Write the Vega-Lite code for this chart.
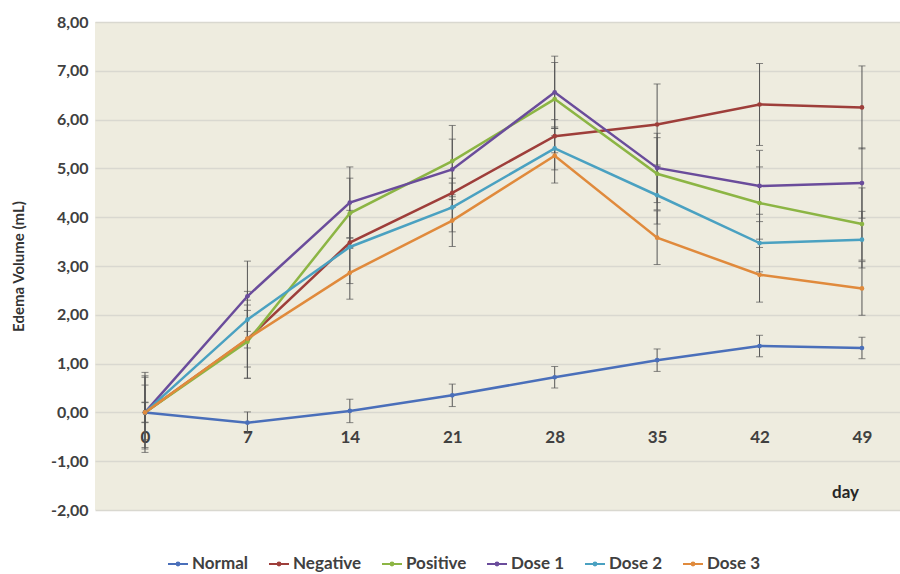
{
  "$schema": "https://vega.github.io/schema/vega-lite/v6.json",
  "width": 805,
  "height": 488,
  "autosize": "none",
  "padding": {"left": 95, "top": 22, "right": 0, "bottom": 64},
  "background": "#ffffff",
  "config": {
    "view": {"stroke": null, "fill": "#eeecdf"},
    "font": "Lato"
  },
  "data": {
    "values": [
      {"series": "Normal", "day": 0, "mean": 0, "lo": -0.2, "hi": 0.2},
      {"series": "Normal", "day": 7, "mean": -0.21, "lo": -0.43, "hi": 0.01},
      {"series": "Normal", "day": 14, "mean": 0.03, "lo": -0.21, "hi": 0.27},
      {"series": "Normal", "day": 21, "mean": 0.35, "lo": 0.12, "hi": 0.58},
      {"series": "Normal", "day": 28, "mean": 0.72, "lo": 0.5, "hi": 0.94},
      {"series": "Normal", "day": 35, "mean": 1.07, "lo": 0.84, "hi": 1.3},
      {"series": "Normal", "day": 42, "mean": 1.36, "lo": 1.14, "hi": 1.58},
      {"series": "Normal", "day": 49, "mean": 1.32, "lo": 1.1, "hi": 1.54},
      {"series": "Negative", "day": 0, "mean": 0, "lo": -0.82, "hi": 0.82},
      {"series": "Negative", "day": 7, "mean": 1.5, "lo": 0.7, "hi": 2.3},
      {"series": "Negative", "day": 14, "mean": 3.48, "lo": 3.38, "hi": 3.58},
      {"series": "Negative", "day": 21, "mean": 4.5, "lo": 4.2, "hi": 4.8},
      {"series": "Negative", "day": 28, "mean": 5.66, "lo": 5.32, "hi": 6.0},
      {"series": "Negative", "day": 35, "mean": 5.9, "lo": 5.07, "hi": 6.73},
      {"series": "Negative", "day": 42, "mean": 6.31, "lo": 5.47, "hi": 7.15},
      {"series": "Negative", "day": 49, "mean": 6.25, "lo": 5.4, "hi": 7.1},
      {"series": "Positive", "day": 0, "mean": 0, "lo": -0.72, "hi": 0.72},
      {"series": "Positive", "day": 7, "mean": 1.45, "lo": 0.7, "hi": 2.2},
      {"series": "Positive", "day": 14, "mean": 4.08, "lo": 3.36, "hi": 4.8},
      {"series": "Positive", "day": 21, "mean": 5.15, "lo": 4.42, "hi": 5.88},
      {"series": "Positive", "day": 28, "mean": 6.42, "lo": 5.67, "hi": 7.17},
      {"series": "Positive", "day": 35, "mean": 4.89, "lo": 4.15, "hi": 5.63},
      {"series": "Positive", "day": 42, "mean": 4.29, "lo": 3.55, "hi": 5.03},
      {"series": "Positive", "day": 49, "mean": 3.86, "lo": 3.12, "hi": 4.6},
      {"series": "Dose 1", "day": 0, "mean": 0, "lo": -0.75, "hi": 0.75},
      {"series": "Dose 1", "day": 7, "mean": 2.38, "lo": 1.66, "hi": 3.1},
      {"series": "Dose 1", "day": 14, "mean": 4.3, "lo": 3.57, "hi": 5.03},
      {"series": "Dose 1", "day": 21, "mean": 4.98, "lo": 4.36, "hi": 5.6},
      {"series": "Dose 1", "day": 28, "mean": 6.56, "lo": 5.82, "hi": 7.3},
      {"series": "Dose 1", "day": 35, "mean": 5.01, "lo": 4.3, "hi": 5.72},
      {"series": "Dose 1", "day": 42, "mean": 4.64, "lo": 3.91, "hi": 5.37},
      {"series": "Dose 1", "day": 49, "mean": 4.7, "lo": 3.98, "hi": 5.42},
      {"series": "Dose 2", "day": 0, "mean": 0, "lo": -0.56, "hi": 0.56},
      {"series": "Dose 2", "day": 7, "mean": 1.9, "lo": 1.32, "hi": 2.48},
      {"series": "Dose 2", "day": 14, "mean": 3.39, "lo": 2.64, "hi": 4.14},
      {"series": "Dose 2", "day": 21, "mean": 4.2, "lo": 3.7, "hi": 4.7},
      {"series": "Dose 2", "day": 28, "mean": 5.41, "lo": 4.97, "hi": 5.85},
      {"series": "Dose 2", "day": 35, "mean": 4.45, "lo": 3.86, "hi": 5.04},
      {"series": "Dose 2", "day": 42, "mean": 3.47, "lo": 2.88, "hi": 4.06},
      {"series": "Dose 2", "day": 49, "mean": 3.54, "lo": 2.96, "hi": 4.12},
      {"series": "Dose 3", "day": 0, "mean": 0, "lo": -0.21, "hi": 0.21},
      {"series": "Dose 3", "day": 7, "mean": 1.51, "lo": 0.93, "hi": 2.09},
      {"series": "Dose 3", "day": 14, "mean": 2.86, "lo": 2.32, "hi": 3.4},
      {"series": "Dose 3", "day": 21, "mean": 3.93, "lo": 3.4, "hi": 4.46},
      {"series": "Dose 3", "day": 28, "mean": 5.26, "lo": 4.7, "hi": 5.82},
      {"series": "Dose 3", "day": 35, "mean": 3.58, "lo": 3.03, "hi": 4.13},
      {"series": "Dose 3", "day": 42, "mean": 2.82, "lo": 2.26, "hi": 3.38},
      {"series": "Dose 3", "day": 49, "mean": 2.54, "lo": 1.99, "hi": 3.09}
    ]
  },
  "encoding": {
    "x": {
      "field": "day",
      "type": "quantitative",
      "scale": {"domain": [-3.417, 51.6], "nice": false, "zero": false},
      "axis": {
        "values": [0, 7, 14, 21, 28, 35, 42, 49],
        "offset": -98,
        "domain": false,
        "ticks": false,
        "grid": false,
        "labelPadding": 17,
        "labelFontSize": 17,
        "labelFontWeight": "bold",
        "labelColor": "#404040",
        "title": "day",
        "titleX": 750,
        "titleY": 80,
        "titleBaseline": "middle",
        "titleAlign": "center",
        "titleFontSize": 17,
        "titleFontWeight": "bold",
        "titleColor": "#262626"
      }
    }
  },
  "layer": [
    {
      "mark": {"type": "rule", "color": "#555555", "strokeWidth": 1},
      "encoding": {
        "y": {"field": "lo", "type": "quantitative"},
        "y2": {"field": "hi"}
      }
    },
    {
      "mark": {"type": "tick", "orient": "horizontal", "size": 7, "thickness": 1, "color": "#555555"},
      "encoding": {"y": {"field": "lo", "type": "quantitative"}}
    },
    {
      "mark": {"type": "tick", "orient": "horizontal", "size": 7, "thickness": 1, "color": "#555555"},
      "encoding": {"y": {"field": "hi", "type": "quantitative"}}
    },
    {
      "mark": {"type": "line", "strokeWidth": 2.5, "point": {"filled": true, "size": 22}},
      "encoding": {
        "y": {
          "field": "mean",
          "type": "quantitative",
          "scale": {"domain": [-2, 8], "nice": false},
          "axis": {
            "values": [-2, -1, 0, 1, 2, 3, 4, 5, 6, 7, 8],
            "labelExpr": "(datum.value < 0 ? '-' : '') + replace(format(abs(datum.value), '.2f'), '.', ',')",
            "domain": false,
            "ticks": false,
            "grid": true,
            "gridColor": "#d9d8d0",
            "gridWidth": 1.5,
            "labelPadding": 7,
            "labelFontSize": 16,
            "labelFontWeight": "bold",
            "labelColor": "#404040",
            "title": "Edema Volume (mL)",
            "titleX": -69,
            "titleFontSize": 15,
            "titleFontWeight": "bold",
            "titleColor": "#333333"
          }
        },
        "color": {
          "field": "series",
          "type": "nominal",
          "scale": {
            "domain": ["Normal", "Negative", "Positive", "Dose 1", "Dose 2", "Dose 3"],
            "range": ["#4a6fba", "#9e3e3a", "#8cb544", "#6a4c9b", "#4aa1c1", "#e08a3c"]
          },
          "legend": {
            "title": null,
            "orient": "none",
            "direction": "horizontal",
            "legendX": 72,
            "legendY": 531,
            "symbolType": "M-1,0H1M0.14,0A0.14,0.14 0 1,1 -0.14,0A0.14,0.14 0 1,1 0.14,0",
            "symbolSize": 400,
            "symbolStrokeWidth": 2,
            "labelFontSize": 17,
            "labelFontWeight": "bold",
            "labelColor": "#404040",
            "labelOffset": 3,
            "columnPadding": 16
          }
        }
      }
    }
  ]
}
